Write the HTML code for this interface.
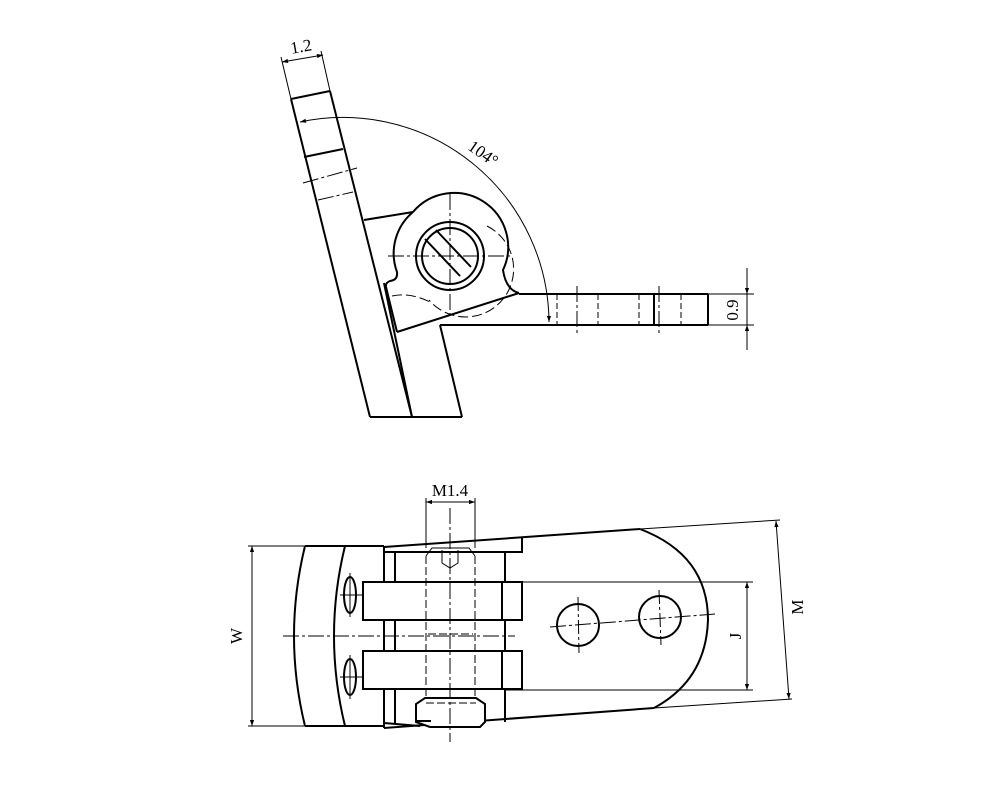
<!DOCTYPE html>
<html><head><meta charset="utf-8"><style>
html,body{margin:0;padding:0;background:#fff}
svg{display:block}
text{font-family:"Liberation Serif",serif;fill:#000}
</style></head><body>
<svg width="988" height="790" viewBox="0 0 988 790" xmlns="http://www.w3.org/2000/svg">
<defs>
<marker id="a" viewBox="0 0 10 10" refX="10" refY="5" markerWidth="10" markerHeight="6" orient="auto-start-reverse" markerUnits="userSpaceOnUse"><path d="M0,1.5 L10,5 L0,8.5 Z" fill="#000"/></marker>
</defs>
<g fill="none" stroke="#000">
<!-- ===== TOP VIEW ===== -->
<g stroke-width="2">
<line x1="291" y1="99" x2="370" y2="417"/>
<line x1="330" y1="91" x2="412" y2="417"/>
<line x1="291" y1="99" x2="330" y2="91"/>
<line x1="304" y1="157" x2="343" y2="149"/>
<line x1="370" y1="417" x2="462" y2="417"/>
<line x1="384" y1="283" x2="412" y2="417"/>
<line x1="364" y1="220" x2="413" y2="212"/>
<path d="M413,212 A54,54 0 0 1 503,270 Q506,290 519,293"/>
<path d="M413,212 A54,54 0 0 0 397,272 Q398,280 390,281 Q385,283 386,287 L397,332"/>
<line x1="397" y1="332" x2="519" y2="293"/>
<line x1="519" y1="294" x2="708" y2="294"/>
<line x1="440" y1="325" x2="708" y2="325"/>
<line x1="708" y1="294" x2="708" y2="325"/>
<line x1="654" y1="294" x2="654" y2="325"/>
<line x1="440" y1="325" x2="462" y2="417"/>
<circle cx="450" cy="256" r="34"/>
<circle cx="450" cy="256" r="28"/>
<line x1="425" y1="239" x2="460" y2="276"/>
<line x1="436" y1="230" x2="471" y2="267"/>
</g>
<g stroke-width="1">
<path d="M487,226 A48,48 0 1 1 429,300" stroke-dasharray="10,4"/>
<path d="M392,296 Q410,292 430,302" stroke-dasharray="10,4"/>
<line x1="450" y1="194" x2="450" y2="318" stroke-dasharray="16,3,3,3"/>
<line x1="388" y1="256" x2="512" y2="256" stroke-dasharray="16,3,3,3"/>
<line x1="303" y1="183" x2="357" y2="168" stroke-dasharray="16,3,3,3"/>
<line x1="318" y1="200" x2="353" y2="192" stroke-dasharray="16,3,3,3"/>
<line x1="557" y1="294" x2="557" y2="325" stroke-dasharray="6,3"/>
<line x1="577" y1="286" x2="577" y2="333" stroke-dasharray="16,3,3,3"/>
<line x1="598" y1="294" x2="598" y2="325" stroke-dasharray="6,3"/>
<line x1="639" y1="294" x2="639" y2="325" stroke-dasharray="6,3"/>
<line x1="659" y1="286" x2="659" y2="333" stroke-dasharray="16,3,3,3"/>
<line x1="681" y1="294" x2="681" y2="325" stroke-dasharray="6,3"/>
<line x1="291" y1="99" x2="281" y2="57"/>
<line x1="330" y1="91" x2="321" y2="51"/>
<line x1="282" y1="62" x2="323" y2="55" marker-start="url(#a)" marker-end="url(#a)"/>
<path d="M300,122 A206,206 0 0 1 549,322" marker-start="url(#a)" marker-end="url(#a)"/>
<line x1="708" y1="294" x2="754" y2="294"/>
<line x1="708" y1="325" x2="754" y2="325"/>
<line x1="747" y1="268" x2="747" y2="294" marker-end="url(#a)"/>
<line x1="747" y1="350" x2="747" y2="325" marker-end="url(#a)"/>
<line x1="747" y1="294" x2="747" y2="325"/>
</g>
<!-- ===== BOTTOM VIEW ===== -->
<g stroke-width="2">
<path d="M305,546 Q283,636 305,726"/>
<path d="M345,546 Q323,636 345,726"/>
<line x1="305" y1="546" x2="384" y2="546"/>
<line x1="305" y1="726" x2="384" y2="726"/>
<line x1="384" y1="546" x2="384" y2="728"/>
<line x1="395" y1="552" x2="395" y2="724"/>
<line x1="505" y1="552" x2="505" y2="722"/>
<path d="M384,547 L640,529"/>
<path d="M384,552 L522,552 L522,538"/>
<path d="M640,529 Q708,555 708,620 Q706,680 654,708"/>
<path d="M384,728 L654,708"/>
<rect x="363" y="582" width="159" height="38" fill="#fff"/>
<rect x="363" y="651" width="159" height="38" fill="#fff"/>
<line x1="502" y1="582" x2="502" y2="620"/>
<line x1="502" y1="651" x2="502" y2="689"/>
<ellipse cx="350" cy="595" rx="6" ry="18"/>
<ellipse cx="350" cy="677" rx="6" ry="18"/>
<circle cx="578" cy="625" r="21"/>
<circle cx="660" cy="617" r="21"/>
<path d="M425,698 L476,698 L485,704 L485,722 L480,727 L430,727 L416,722 L416,704 Z" fill="#fff"/>
<line x1="416" y1="721" x2="431" y2="721"/>
<line x1="384" y1="723" x2="420" y2="726"/>
</g>
<g stroke-width="1">
<line x1="426" y1="556" x2="426" y2="698" stroke-dasharray="8,3"/>
<line x1="475" y1="556" x2="475" y2="698" stroke-dasharray="8,3"/>
<path d="M426,556 L432,548 L469,548 L475,556"/>
<path d="M442,550 L442,563 L450,568 L458,563 L458,550"/>
<line x1="428" y1="634" x2="473" y2="634" stroke-dasharray="8,3"/>
<line x1="426" y1="703" x2="476" y2="703" stroke-dasharray="8,3"/>
<line x1="450" y1="508" x2="450" y2="742" stroke-dasharray="16,3,3,3"/>
<line x1="283" y1="636" x2="515" y2="636" stroke-dasharray="16,3,3,3"/>
<line x1="550" y1="627" x2="715" y2="614" stroke-dasharray="16,3,3,3"/>
<line x1="578" y1="597" x2="579" y2="653" stroke-dasharray="14,3,3,3"/>
<line x1="659" y1="590" x2="661" y2="645" stroke-dasharray="14,3,3,3"/>
<line x1="340" y1="595" x2="362" y2="595"/>
<line x1="350" y1="573" x2="350" y2="617"/>
<line x1="340" y1="677" x2="362" y2="677"/>
<line x1="350" y1="655" x2="350" y2="699"/>
<line x1="248" y1="546" x2="305" y2="546"/>
<line x1="248" y1="726" x2="305" y2="726"/>
<line x1="252" y1="546" x2="252" y2="726" marker-start="url(#a)" marker-end="url(#a)"/>
<line x1="426" y1="498" x2="426" y2="548"/>
<line x1="475" y1="498" x2="475" y2="548"/>
<line x1="426" y1="502" x2="475" y2="502" marker-start="url(#a)" marker-end="url(#a)"/>
<line x1="505" y1="582" x2="753" y2="582"/>
<line x1="505" y1="690" x2="753" y2="690"/>
<line x1="747" y1="582" x2="747" y2="690" marker-start="url(#a)" marker-end="url(#a)"/>
<line x1="640" y1="529" x2="780" y2="520"/>
<line x1="654" y1="708" x2="792" y2="699"/>
<line x1="776" y1="521" x2="789" y2="699" marker-start="url(#a)" marker-end="url(#a)"/>
</g>
</g>
<g font-size="17">
<text x="302" y="52" text-anchor="middle" transform="rotate(-10 302 52)">1.2</text>
<text x="480" y="158" text-anchor="middle" transform="rotate(35 480 158)">104°</text>
<text x="738" y="310" text-anchor="middle" transform="rotate(-90 738 310)">0.9</text>
<text x="450" y="496" text-anchor="middle">M1.4</text>
<text x="242" y="636" text-anchor="middle" transform="rotate(-90 242 636)">W</text>
<text x="741" y="636" text-anchor="middle" transform="rotate(-90 741 636)">J</text>
<text x="803" y="607" text-anchor="middle" transform="rotate(-90 803 607)">M</text>
</g>
</svg>
</body></html>
